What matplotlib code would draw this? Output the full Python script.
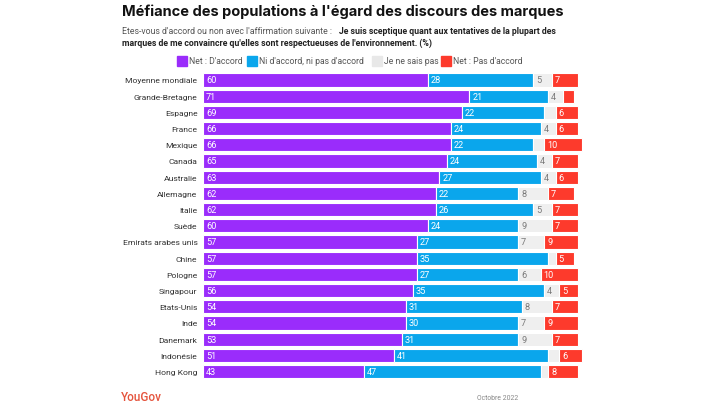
import matplotlib
matplotlib.use("Agg")
import matplotlib.pyplot as plt
from matplotlib.patches import Rectangle

countries = ["Moyenne mondiale", "Grande-Bretagne", "Espagne", "France", "Mexique",
             "Canada", "Australie", "Allemagne", "Italie", "Suède",
             "Emirats arabes unis", "Chine", "Pologne", "Singapour", "Etats-Unis",
             "Inde", "Danemark", "Indonésie", "Hong Kong"]
accord = [60, 71, 69, 66, 66, 65, 63, 62, 62, 60, 57, 57, 57, 56, 54, 54, 53, 51, 43]
neutre = [28, 21, 22, 24, 22, 24, 27, 22, 26, 24, 27, 35, 27, 35, 31, 30, 31, 41, 47]
nsp = [5, 4, 3, 4, 3, 4, 4, 8, 5, 9, 7, 2, 6, 4, 8, 7, 9, 3, 2]
pas_accord = [7, 3, 6, 6, 10, 7, 6, 7, 7, 7, 9, 5, 10, 5, 7, 9, 7, 6, 8]
series_names = ["Net : D'accord", "Ni d'accord, ni pas d'accord", "Je ne sais pas", "Net : Pas d'accord"]

colors = ["#9a2cfb", "#0aa6ec", "#efefef", "#fd3a2c"]
text_colors = ["white", "white", "#7a7a7a", "white"]

plt.rcParams['font.family'] = ['Roboto', 'DejaVu Sans']

W, H = 728, 410
fig = plt.figure(figsize=(7.28, 4.10), dpi=100)
fig.canvas.draw()
R = fig.canvas.get_renderer()


def fit(t, width_px):
    bb = t.get_window_extent(R)
    t.set_fontsize(t.get_fontsize() * width_px / bb.width)
    return t


ax = fig.add_axes([203/W, 0.0715, 382.5/W, 0.7507])

series = [accord, neutre, nsp, pas_accord]
ypos = list(range(len(countries)))
left = [0]*len(countries)
for s, vals in enumerate(series):
    ax.barh(ypos, vals, left=left, height=0.82, color=colors[s],
            edgecolor="white", linewidth=0.8)
    for i, v in enumerate(vals):
        if v >= 4:
            ax.text(left[i] + 0.8, i, str(v), ha="left", va="center",
                    fontsize=6.6, color=text_colors[s])
    left = [l + v for l, v in zip(left, vals)]

ax.set_xlim(0, 102)
ax.set_ylim(len(countries) - 0.5, -0.5)
ax.set_yticks(ypos)
ax.set_yticklabels(countries, fontsize=6.1, color="#333333")
ax.tick_params(axis="y", length=0, pad=4)
ax.set_xticks([])
for sp in ax.spines.values():
    sp.set_visible(False)

title = fig.text(122/W, 1 - 12/H, "Méfiance des populations à l'égard des discours des marques",
                 fontsize=11, fontweight="bold", color="#111111", va="center", ha="left",
                 family=['Inter', 'DejaVu Sans'])
fit(title, 443)
sub1 = fig.text(122/W, 1 - 31/H, "Etes-vous d'accord ou non avec l'affirmation suivante :",
                fontsize=6, color="#555555", va="center", ha="left")
fit(sub1, 213)
sub3 = fig.text(122/W, 1 - 43/H, "marques de me convaincre qu'elles sont respectueuses de l'environnement. (%)",
                fontsize=6, fontweight="bold", color="#222222", va="center", ha="left")
fit(sub3, 313)
sub2 = fig.text(339/W, 1 - 31/H, "Je suis sceptique quant aux tentatives de la plupart des",
                fontsize=sub3.get_fontsize(), fontweight="bold", color="#222222",
                va="center", ha="left")

# legend
sq_x = [177, 247, 372, 441]
ly = 1 - 62/H
probe = fig.text(0, 0, series_names[1], fontsize=6)
fit(probe, 107)
lfs = probe.get_fontsize()
probe.remove()
for s in range(4):
    fig.patches.append(Rectangle((sq_x[s]/W, ly - 5/H), 10/W, 10/H,
                                 transform=fig.transFigure,
                                 color=colors[s] if s != 2 else "#e8e8e8"))
    fig.text((sq_x[s] + 12)/W, ly, series_names[s], fontsize=lfs, color="#555555",
             va="center", ha="left")

yg = fig.text(121/W, 1 - 398/H, "YouGov", fontsize=9, color="#e5543d", va="center", ha="left",
              fontweight="medium")
fit(yg, 41)
oc = fig.text(477/W, 1 - 399/H, "Octobre 2022", fontsize=5, color="#888888", va="center", ha="left")
fit(oc, 42)

fig.savefig("out.png", dpi=100, facecolor="white")
